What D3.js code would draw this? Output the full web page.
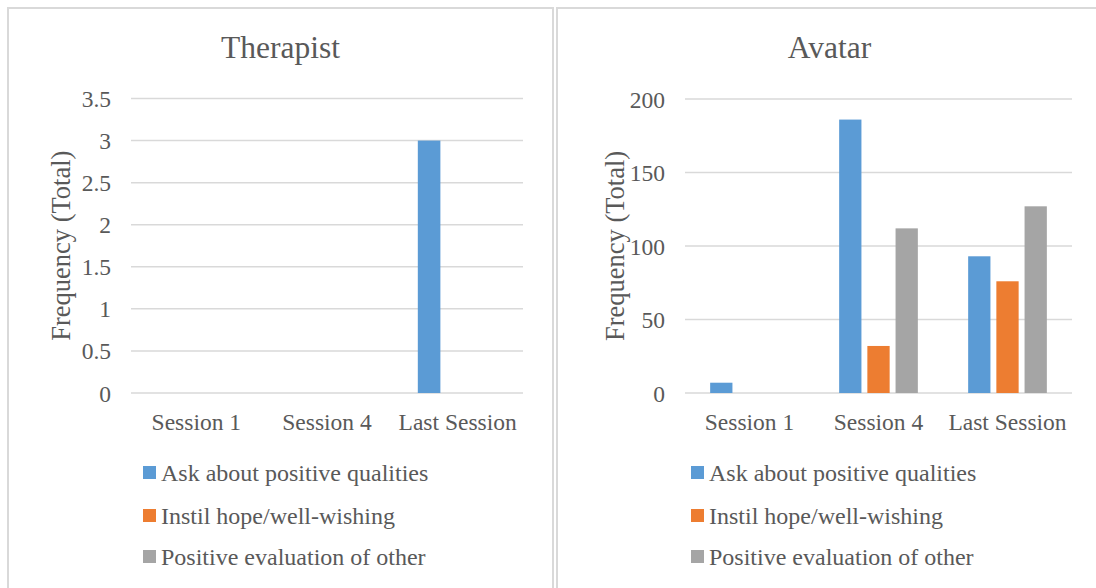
<!DOCTYPE html>
<html>
<head>
<meta charset="utf-8">
<script src="https://cdn.jsdelivr.net/npm/d3@7"></script>
<style>
  html, body { margin: 0; padding: 0; background: #fff; }
  svg { display: block; }
  text { font-family: "Liberation Serif", "Times New Roman", serif; fill: #595959; }
</style>
</head>
<body>
<script>
// Session categories and series names shared by both panels
const categories = ["Session 1", "Session 4", "Last Session"];
const seriesNames = ["Ask about positive qualities", "Instil hope/well-wishing", "Positive evaluation of other"];
const seriesColors = ["#5B9BD5", "#ED7D31", "#A5A5A5"];

// Therapist counts per session
const therapistAsk = [0, 0, 3];
const therapistInstil = [0, 0, 0];
const therapistPositive = [0, 0, 0];
const therapistTicks = [0, 0.5, 1, 1.5, 2, 2.5, 3, 3.5];

// Avatar counts per session
const avatarAsk = [7, 186, 93];
const avatarInstil = [0, 32, 76];
const avatarPositive = [0, 112, 127];
const avatarTicks = [0, 50, 100, 150, 200];

const W = 1096, H = 588;
const svg = d3.select("body").append("svg").attr("width", W).attr("height", H);

const panels = [
  { title: "Therapist", series: [therapistAsk, therapistInstil, therapistPositive], ticks: therapistTicks,
    box: [8, 8, 545, 600], plot: { x0: 131, x1: 523, y0: 393, y1: 98.5 }, legendX: 143 },
  { title: "Avatar", series: [avatarAsk, avatarInstil, avatarPositive], ticks: avatarTicks,
    box: [557, 8, 545, 600], plot: { x0: 685, x1: 1072, y0: 393, y1: 99 }, legendX: 691 }
];

const serif = "'Liberation Serif', 'Times New Roman', serif";

panels.forEach(p => {
  const g = svg.append("g");
  // chart frame
  g.append("rect")
    .attr("x", p.box[0]).attr("y", p.box[1])
    .attr("width", p.box[2]).attr("height", p.box[3])
    .attr("fill", "#fff").attr("stroke", "#D9D9D9").attr("stroke-width", 2);

  const x = d3.scaleBand().domain(categories).range([p.plot.x0, p.plot.x1]).paddingInner(0).paddingOuter(0);
  const groupW = x.bandwidth() * 0.61;
  const xs = d3.scaleBand().domain(d3.range(seriesNames.length))
    .range([-groupW / 2, groupW / 2]).paddingInner(0.21).paddingOuter(0);
  const y = d3.scaleLinear()
    .domain([d3.min(p.ticks), d3.max(p.ticks)])
    .range([p.plot.y0, p.plot.y1]);

  // horizontal gridlines
  g.append("g").selectAll("line").data(p.ticks).join("line")
    .attr("x1", p.plot.x0).attr("x2", p.plot.x1)
    .attr("y1", d => y(d)).attr("y2", d => y(d))
    .attr("stroke", "#D9D9D9").attr("stroke-width", 1.5);

  // y tick labels
  const yAxis = d3.axisLeft(y).tickValues(p.ticks).tickSize(0).tickPadding(0).tickFormat(d3.format("~g"));
  const ya = g.append("g").attr("transform", `translate(${p.plot.x0 - 20},0)`).call(yAxis);
  ya.select(".domain").remove();
  ya.selectAll("text").style("font-size", "23.5px").style("fill", "#595959")
    .style("font-family", serif).attr("dy", "0.34em");

  // bars
  p.series.forEach((vals, si) => {
    g.append("g").selectAll("rect").data(vals).join("rect")
      .attr("x", (d, i) => x(categories[i]) + x.bandwidth() / 2 + xs(si))
      .attr("width", xs.bandwidth())
      .attr("y", d => y(d))
      .attr("height", d => y(0) - y(d))
      .attr("fill", seriesColors[si]);
  });

  // x category labels
  const xAxis = d3.axisBottom(x).tickSize(0).tickPadding(0);
  const xa = g.append("g").attr("transform", `translate(0,${p.plot.y0 + 20})`).call(xAxis);
  xa.select(".domain").remove();
  xa.selectAll("text").style("font-size", "23.5px").style("fill", "#595959")
    .style("font-family", serif).attr("dy", "0.71em");

  // title, centred on the frame
  g.append("text")
    .attr("x", p.box[0] + p.box[2] / 2).attr("y", 58)
    .attr("text-anchor", "middle").style("font-size", "31.5px")
    .text(p.title);

  // y axis title
  g.append("text")
    .attr("transform", `translate(${p.plot.x0 - 61},${(p.plot.y0 + p.plot.y1) / 2}) rotate(-90)`)
    .attr("text-anchor", "middle").style("font-size", "26.5px")
    .text("Frequency (Total)");

  // legend
  const lg = g.append("g").attr("transform", `translate(${p.legendX},0)`);
  const rowY = [473, 516, 557];
  seriesNames.forEach((name, si) => {
    lg.append("rect").attr("x", 0).attr("y", rowY[si] - 7).attr("width", 13).attr("height", 13)
      .attr("fill", seriesColors[si]);
    lg.append("text").attr("x", 18).attr("y", rowY[si] + 8).style("font-size", "24px").text(name);
  });
});
</script>
</body>
</html>
